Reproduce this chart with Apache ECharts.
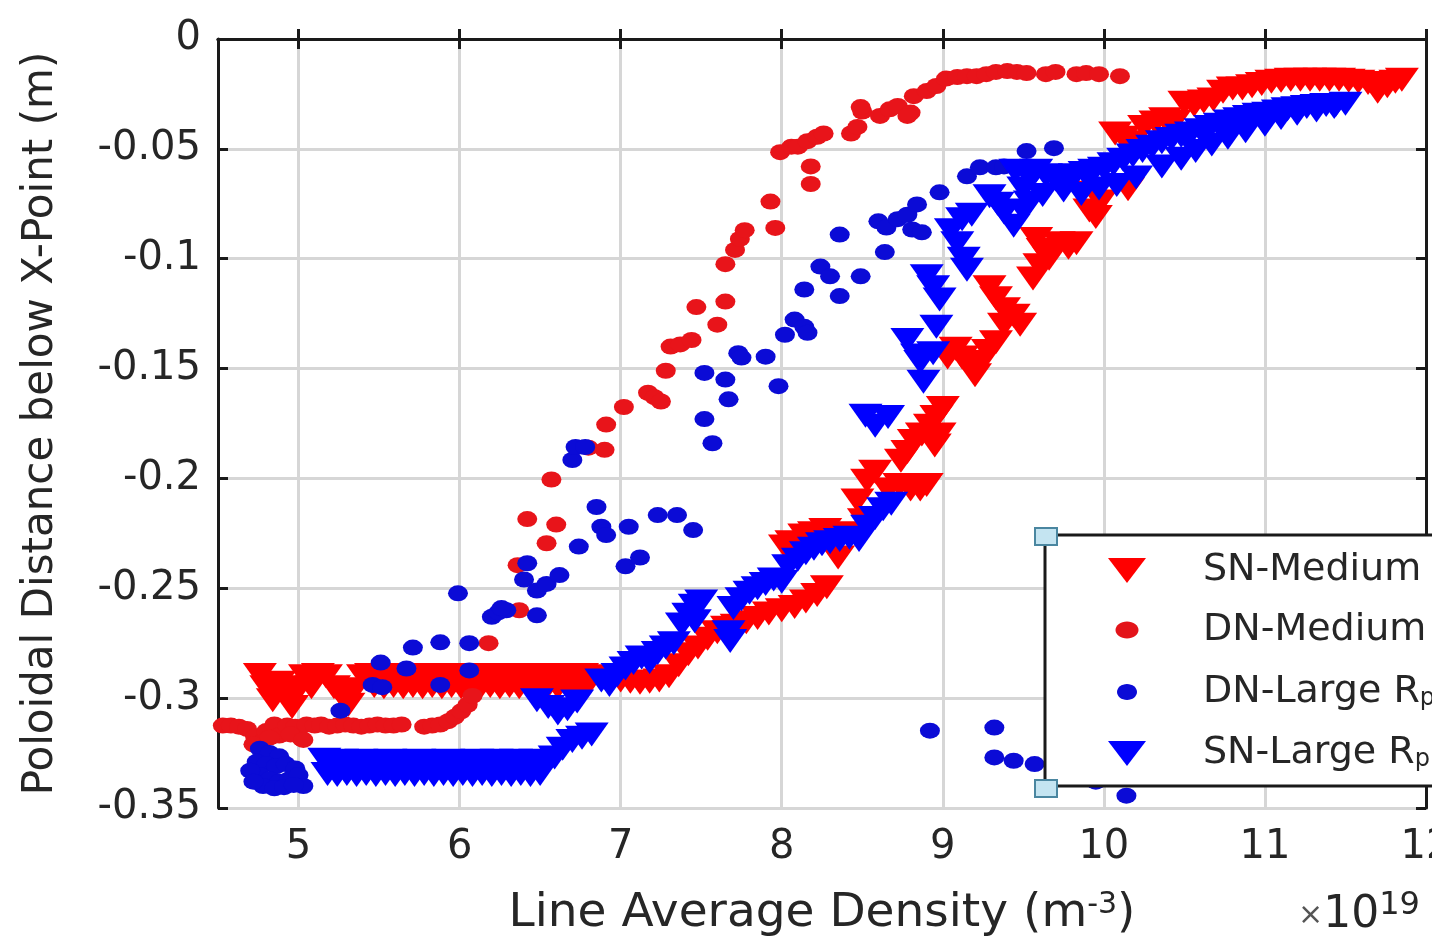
<!DOCTYPE html>
<html>
<head>
<meta charset="utf-8">
<script src="https://cdn.jsdelivr.net/npm/echarts@6/dist/echarts.min.js"></script>
<style>
  html, body { margin: 0; padding: 0; background: #fff; }
  #chart { width: 1432px; height: 937px; }
</style>
</head>
<body>
<div id="chart"></div>
<script>
// x: line average density (x1e19 m^-3), y: poloidal distance below X-point (m)
const snMedium = [
  [4.76,-0.2895],[4.80,-0.2950],[4.84,-0.3010],[4.88,-0.2930],[4.92,-0.2990],[4.96,-0.3040],[5.00,-0.2960],
  [5.04,-0.2900],[5.08,-0.2950],[5.12,-0.2895],[5.17,-0.2900],[5.22,-0.2950],[5.27,-0.2990],[5.31,-0.3030],
  [5.35,-0.2960],[5.40,-0.2900],[5.45,-0.2895],[5.50,-0.2900],[5.56,-0.2895],[5.62,-0.2900],[5.68,-0.2895],
  [5.74,-0.2900],[5.80,-0.2895],[5.86,-0.2900],[5.92,-0.2895],[5.98,-0.2900],[6.04,-0.2895],[6.10,-0.2900],
  [6.16,-0.2895],[6.22,-0.2900],[6.28,-0.2895],[6.34,-0.2900],[6.40,-0.2895],[6.46,-0.2900],[6.52,-0.2895],
  [6.58,-0.2900],[6.64,-0.2895],[6.70,-0.2900],[6.76,-0.2895],[6.82,-0.2900],
  [4.99,-0.2950],[5.47,-0.2945],[5.53,-0.2950],[5.59,-0.2945],[5.65,-0.2950],[5.71,-0.2945],[5.77,-0.2950],
  [5.83,-0.2945],[5.89,-0.2950],[5.95,-0.2945],[6.01,-0.2950],[6.07,-0.2945],[6.13,-0.2950],[6.19,-0.2945],
  [6.25,-0.2950],[6.31,-0.2945],[6.37,-0.2950],[6.43,-0.2945],[6.49,-0.2950],[6.55,-0.2945],[6.61,-0.2950],
  [6.67,-0.2945],[6.73,-0.2950],[6.79,-0.2945],
  [6.88,-0.2910],[6.94,-0.2920],[7.00,-0.2920],[7.06,-0.2925],[7.12,-0.2930],[7.18,-0.2925],[7.24,-0.2920],
  [7.30,-0.2900],[7.36,-0.2850],[7.42,-0.2800],[7.48,-0.2770],[7.54,-0.2730],[7.60,-0.2700],[7.66,-0.2680],
  [7.72,-0.2670],[7.78,-0.2655],[7.85,-0.2635],[7.92,-0.2615],[8.00,-0.2600],[8.08,-0.2585],[8.15,-0.2560],
  [8.22,-0.2530],[8.28,-0.2495],
  [8.02,-0.2310],[8.06,-0.2290],[8.14,-0.2260],[8.20,-0.2250],[8.27,-0.2235],[8.35,-0.2360],[8.42,-0.2250],
  [8.47,-0.2100],[8.51,-0.2190],[8.53,-0.2010],[8.58,-0.1970],[8.66,-0.2050],[8.73,-0.2030],[8.80,-0.2050],
  [8.86,-0.2050],[8.90,-0.2030],
  [8.74,-0.1920],[8.78,-0.1880],[8.82,-0.1830],[8.87,-0.1800],[8.92,-0.1760],[8.96,-0.1720],[9.00,-0.1680],
  [8.95,-0.1850],[8.98,-0.1800],
  [9.03,-0.1450],[9.08,-0.1410],[9.12,-0.1450],[9.16,-0.1480],[9.20,-0.1530],[9.24,-0.1470],[9.28,-0.1420],
  [9.33,-0.1380],[9.38,-0.1300],[9.29,-0.1130],[9.33,-0.1180],[9.38,-0.1230],[9.44,-0.1260],[9.48,-0.1300],
  [9.56,-0.1090],[9.60,-0.1030],[9.58,-0.0910],[9.62,-0.0960],[9.66,-0.1000],[9.72,-0.0930],[9.78,-0.0950],
  [9.83,-0.0930],[9.91,-0.0780],[9.95,-0.0810],[9.86,-0.0700],[9.98,-0.0740],[10.15,-0.0684],
  [10.07,-0.0430],[10.12,-0.0450],[10.18,-0.0470],[10.25,-0.0400],[10.32,-0.0380],[10.38,-0.0365],
  [10.44,-0.0375],[10.50,-0.0290],[10.56,-0.0300],[10.62,-0.0285],[10.68,-0.0275],[10.74,-0.0240],
  [10.80,-0.0225],[10.86,-0.0225],[10.92,-0.0215],[10.98,-0.0205],[11.04,-0.0195],[11.10,-0.0190],
  [11.16,-0.0185],[11.22,-0.0185],[11.28,-0.0185],[11.34,-0.0185],[11.40,-0.0185],[11.46,-0.0185],
  [11.52,-0.0190],[11.58,-0.0195],[11.64,-0.0200],[11.70,-0.0240],[11.76,-0.0215],[11.81,-0.0195],[11.85,-0.0185]
];

const dnMedium = [
  [4.53,-0.3125],[4.58,-0.3125],[4.63,-0.3130],[4.68,-0.3140],[4.73,-0.3175],[4.77,-0.3200],[4.80,-0.3150],
  [4.85,-0.3120],[4.88,-0.3170],[4.93,-0.3125],[4.98,-0.3130],[5.02,-0.3185],[5.05,-0.3120],[5.10,-0.3125],
  [5.14,-0.3120],[5.19,-0.3130],[5.24,-0.3125],[5.29,-0.3120],[5.34,-0.3125],[5.39,-0.3130],[5.44,-0.3125],
  [5.49,-0.3120],[5.54,-0.3125],[5.59,-0.3125],[5.64,-0.3120],
  [5.78,-0.3130],[5.83,-0.3125],[5.88,-0.3120],[5.93,-0.3105],[5.97,-0.3085],[6.01,-0.3060],[6.05,-0.3030],
  [6.08,-0.2990],[4.72,-0.3210],[4.82,-0.3180],[4.95,-0.3165],[5.03,-0.3190],
  [6.18,-0.2750],[6.37,-0.2600],[6.36,-0.2395],[6.42,-0.2185],[6.54,-0.2295],[6.60,-0.2210],[6.57,-0.2005],
  [6.80,-0.1860],[6.90,-0.1870],[6.91,-0.1755],[7.02,-0.1675],[7.17,-0.1610],[7.21,-0.1630],[7.25,-0.1650],
  [7.28,-0.1510],[7.31,-0.1400],[7.37,-0.1390],[7.44,-0.1370],[7.47,-0.1220],[7.60,-0.1300],[7.65,-0.1195],
  [7.65,-0.1025],[7.71,-0.0960],[7.74,-0.0910],[7.77,-0.0870],[7.93,-0.0740],[7.96,-0.0860],[7.99,-0.0515],
  [8.06,-0.0490],[8.10,-0.0490],[8.16,-0.0465],[8.22,-0.0445],[8.26,-0.0430],[8.18,-0.0580],[8.18,-0.0660],
  [8.43,-0.0430],[8.47,-0.0400],[8.50,-0.0330],[8.49,-0.0310],[8.61,-0.0350],[8.67,-0.0320],[8.72,-0.0305],
  [8.80,-0.0335],[8.78,-0.0350],[8.82,-0.0260],[8.90,-0.0237],[8.96,-0.0214],[9.02,-0.0180],[9.09,-0.0173],
  [9.15,-0.0169],[9.21,-0.0169],[9.27,-0.0160],[9.33,-0.0150],[9.40,-0.0146],[9.46,-0.0150],[9.52,-0.0155],
  [9.64,-0.0160],[9.70,-0.0150],[9.83,-0.0160],[9.89,-0.0155],[9.97,-0.0160],[10.10,-0.0169]
];

const dnLarge = [
  [4.76,-0.3230],[4.82,-0.3250],[4.88,-0.3265],[4.74,-0.3290],[4.80,-0.3300],[4.86,-0.3310],[4.92,-0.3300],
  [4.98,-0.3320],[4.76,-0.3350],[4.82,-0.3370],[4.88,-0.3380],[4.94,-0.3370],[5.00,-0.3350],[5.03,-0.3400],
  [4.78,-0.3400],[4.85,-0.3410],[4.91,-0.3405],[4.97,-0.3395],[4.70,-0.3330],[4.72,-0.3380],
  [5.26,-0.3057],[5.46,-0.2940],[5.51,-0.2838],[5.52,-0.2950],[5.67,-0.2865],[5.71,-0.2770],[5.88,-0.2746],
  [5.88,-0.2940],[5.99,-0.2523],[6.06,-0.2750],[6.06,-0.2874],[6.20,-0.2630],[6.24,-0.2610],[6.29,-0.2600],
  [6.26,-0.2590],[6.40,-0.2460],[6.42,-0.2386],[6.48,-0.2510],[6.48,-0.2623],[6.54,-0.2480],[6.62,-0.2440],
  [6.74,-0.2310],[6.70,-0.1916],[6.72,-0.1857],[6.78,-0.1857],[6.85,-0.2130],[6.88,-0.2220],[6.91,-0.2258],
  [7.03,-0.2400],[7.05,-0.2220],[7.12,-0.2360],[7.23,-0.2167],[7.35,-0.2167],[7.45,-0.2235],[7.52,-0.1520],
  [7.52,-0.1730],[7.57,-0.1840],[7.65,-0.1550],[7.67,-0.1640],[7.73,-0.1430],[7.75,-0.1450],[7.90,-0.1446],
  [7.98,-0.1580],[8.02,-0.1346],[8.08,-0.1277],[8.14,-0.1310],[8.16,-0.1337],[8.14,-0.1140],[8.24,-0.1036],
  [8.30,-0.1080],[8.36,-0.1170],[8.36,-0.0890],[8.49,-0.1080],[8.60,-0.0830],[8.64,-0.0970],[8.65,-0.0858],
  [8.72,-0.0820],[8.78,-0.0800],[8.81,-0.0867],[8.84,-0.0753],[8.87,-0.0880],[8.98,-0.0698],[9.15,-0.0625],
  [9.23,-0.0584],[9.33,-0.0584],[9.38,-0.0580],[9.52,-0.0510],[9.69,-0.0497],
  [8.92,-0.3148],[9.32,-0.3134],[9.32,-0.3270],[9.44,-0.3285],[9.57,-0.3300],[9.75,-0.3340],[9.95,-0.3380],
  [10.14,-0.3444]
];

const snLarge = [
  [5.16,-0.3280],[5.21,-0.3290],[5.27,-0.3285],[5.33,-0.3290],[5.39,-0.3285],[5.45,-0.3290],[5.51,-0.3290],
  [5.57,-0.3285],[5.63,-0.3290],[5.69,-0.3290],[5.75,-0.3285],[5.81,-0.3290],[5.87,-0.3290],[5.93,-0.3285],
  [5.99,-0.3290],[6.05,-0.3290],[6.11,-0.3285],[6.17,-0.3290],[6.23,-0.3285],[6.29,-0.3290],[6.35,-0.3285],
  [6.41,-0.3290],[6.47,-0.3285],[6.53,-0.3290],[6.59,-0.3270],[6.64,-0.3230],[6.70,-0.3195],[6.76,-0.3180],
  [6.82,-0.3165],
  [5.18,-0.3345],[5.24,-0.3350],[5.30,-0.3345],[5.36,-0.3350],[5.42,-0.3345],[5.48,-0.3350],[5.54,-0.3345],
  [5.60,-0.3350],[5.66,-0.3345],[5.72,-0.3350],[5.78,-0.3345],[5.84,-0.3350],[5.90,-0.3345],[5.96,-0.3350],
  [6.02,-0.3345],[6.08,-0.3350],[6.14,-0.3345],[6.20,-0.3350],[6.26,-0.3345],[6.32,-0.3350],[6.38,-0.3345],
  [6.44,-0.3350],[6.50,-0.3345],
  [6.48,-0.3010],[6.55,-0.3040],[6.61,-0.3070],[6.67,-0.3050],[6.73,-0.3015],
  [6.88,-0.2920],[6.93,-0.2940],[6.98,-0.2895],[7.03,-0.2865],[7.08,-0.2840],[7.13,-0.2815],[7.18,-0.2835],
  [7.23,-0.2795],[7.28,-0.2770],[7.33,-0.2750],[7.38,-0.2665],[7.42,-0.2620],[7.46,-0.2580],[7.50,-0.2560],
  [7.46,-0.2650],[7.68,-0.2740],[7.67,-0.2700],[7.70,-0.2590],[7.75,-0.2550],[7.80,-0.2520],[7.85,-0.2500],
  [7.90,-0.2480],[7.95,-0.2460],[8.00,-0.2470],[8.04,-0.2400],[8.10,-0.2370],[8.15,-0.2340],[8.20,-0.2320],
  [8.25,-0.2300],[8.30,-0.2290],[8.36,-0.2280],[8.42,-0.2270],[8.48,-0.2280],[8.53,-0.2220],[8.58,-0.2180],
  [8.63,-0.2140],[8.68,-0.2115],
  [8.52,-0.1715],[8.58,-0.1760],[8.66,-0.1720],[8.78,-0.1370],[8.84,-0.1440],[8.86,-0.1470],[8.88,-0.1560],
  [8.94,-0.1430],[8.96,-0.1310],[8.90,-0.1080],[8.94,-0.1130],[8.98,-0.1186],[9.09,-0.0930],[9.13,-0.1000],
  [9.15,-0.1050],[9.05,-0.0870],[9.12,-0.0820],[9.18,-0.0800],[9.29,-0.0716],[9.34,-0.0750],[9.38,-0.0790],
  [9.44,-0.0850],[9.50,-0.0780],[9.54,-0.0744],
  [9.45,-0.0600],[9.52,-0.0610],[9.58,-0.0600],[9.64,-0.0620],[9.70,-0.0640],[9.76,-0.0630],[9.82,-0.0620],
  [9.88,-0.0610],[9.94,-0.0600],[10.00,-0.0590],[10.06,-0.0570],[10.12,-0.0550],[10.18,-0.0530],[10.24,-0.0510],
  [10.30,-0.0490],[10.36,-0.0470],[10.42,-0.0455],[10.48,-0.0440],[10.54,-0.0430],[10.60,-0.0415],[10.66,-0.0400],
  [10.72,-0.0390],[10.78,-0.0375],[10.84,-0.0365],[10.90,-0.0355],[10.96,-0.0345],[11.02,-0.0340],[11.08,-0.0330],
  [11.14,-0.0320],[11.20,-0.0315],[11.26,-0.0310],[11.32,-0.0305],[11.38,-0.0300],[11.44,-0.0300],[11.50,-0.0295],
  [9.50,-0.0680],[9.62,-0.0710],[9.75,-0.0690],[9.86,-0.0705],[9.97,-0.0680],[10.08,-0.0665],[10.20,-0.0630],
  [10.36,-0.0580],[10.48,-0.0545],[10.57,-0.0510],[10.67,-0.0480],[10.77,-0.0450],[10.88,-0.0420],[11.00,-0.0390],
  [11.10,-0.0360],[11.20,-0.0340],[11.32,-0.0325],[11.43,-0.0310]
];

const seriesNames = ['SN-Medium', 'DN-Medium', 'DN-Large R', 'SN-Large R'];
const xRange = [4.5, 12];
const yRange = [-0.35, 0];
const yStep = 0.05;

const FONT = 'DejaVu Sans';
const TXT = '#262626';
const FRAME = '#1a1a1a';
const TRI = 'path://M0,0L10,0L5,7Z'; // downward triangle

const chart = echarts.init(document.getElementById('chart'));

const frameAxis = {
  axisLine: { show: true, lineStyle: { color: FRAME, width: 3 } },
  axisTick: { show: true, inside: true, length: 10, lineStyle: { color: FRAME, width: 3 } }
};

const legendItems = [
  { y: 570, shape: 'tri', color: '#ff0000' },
  { y: 630, shape: 'dot', color: '#e3141a', rx: 11.5, ry: 8.5 },
  { y: 692, shape: 'dot', color: '#0b0bd6', rx: 10, ry: 8 },
  { y: 753, shape: 'tri', color: '#0000ff' }
];

const legendGraphics = [
  { type: 'rect', z: 100, shape: { x: 1045, y: 535, width: 420, height: 251 },
    style: { fill: '#fff', stroke: FRAME, lineWidth: 3 } }
];
legendItems.forEach((it, i) => {
  if (it.shape === 'tri') {
    legendGraphics.push({ type: 'polygon', z: 101,
      shape: { points: [[1108, it.y - 12], [1146, it.y - 12], [1127, it.y + 13]] },
      style: { fill: it.color } });
  } else {
    legendGraphics.push({ type: 'ellipse', z: 101,
      shape: { cx: 1127, cy: it.y, rx: it.rx, ry: it.ry },
      style: { fill: it.color } });
  }
  const sub = i >= 2;
  legendGraphics.push({ type: 'text', z: 101,
    style: {
      text: sub ? seriesNames[i] + '{sub|p}' : seriesNames[i],
      x: 1203, y: it.y, verticalAlign: 'middle',
      font: '38px "' + FONT + '"', fill: TXT,
      rich: { sub: { fontSize: 24, fontFamily: FONT, fill: TXT, verticalAlign: 'bottom', padding: [14, 0, 0, 0] } }
    } });
});
// selection handles on the legend corners
[536, 788].forEach(cy => {
  legendGraphics.push({ type: 'rect', z: 102,
    shape: { x: 1035, y: cy - 8, width: 22, height: 17 },
    style: { fill: '#c4e4f1', stroke: '#4a86a0', lineWidth: 2 } });
});
// exponent note
legendGraphics.push({ type: 'text', z: 101,
  style: {
    text: '{x|\u00d7}{n|10}{s|19}', x: 1298, y: 916, verticalAlign: 'middle',
    rich: {
      x: { fontSize: 30, fontFamily: FONT, fill: '#555' },
      n: { fontSize: 44, fontFamily: FONT, fill: TXT },
      s: { fontSize: 32, fontFamily: FONT, fill: TXT, verticalAlign: 'top', padding: [0, 0, 20, 0] }
    }
  } });

const option = {
  animation: false,
  backgroundColor: '#fff',
  grid: { left: 218, right: 6, top: 39, bottom: 129, outerBoundsMode: 'none' },
  xAxis: [
    Object.assign({
      type: 'value', position: 'bottom', min: xRange[0], max: xRange[1],
      minInterval: 1, maxInterval: 1,
      splitLine: { show: true, lineStyle: { color: '#d6d6d6', width: 3 } },
      axisLabel: {
        interval: 0, showMinLabel: false, showMaxLabel: true, margin: 20,
        color: TXT, fontSize: 40, fontFamily: FONT,
        formatter: v => Math.abs(v - Math.round(v)) < 1e-9 ? String(Math.round(v)) : ''
      },
      name: 'Line Average Density (m{sup|-3})',
      nameLocation: 'middle', nameGap: 82,
      nameTextStyle: {
        color: TXT, fontSize: 47, fontFamily: FONT,
        rich: { sup: { color: TXT, fontSize: 30, fontFamily: FONT, verticalAlign: 'top', padding: [0, 0, 12, 0] } }
      }
    }, frameAxis),
    Object.assign({
      type: 'value', position: 'top', min: xRange[0], max: xRange[1],
      minInterval: 1, maxInterval: 1,
      splitLine: { show: false }, axisLabel: { show: false }
    }, frameAxis)
  ],
  yAxis: [
    Object.assign({
      type: 'value', position: 'left', min: yRange[0], max: yRange[1], interval: yStep,
      splitLine: { show: true, lineStyle: { color: '#d6d6d6', width: 3 } },
      axisLabel: { margin: 17, color: TXT, fontSize: 40, fontFamily: FONT },
      name: 'Poloidal Distance below X-Point (m)',
      nameLocation: 'middle', nameRotate: 90, nameGap: 156,
      nameTextStyle: { color: TXT, fontSize: 42, fontFamily: FONT }
    }, frameAxis),
    Object.assign({
      type: 'value', position: 'right', min: yRange[0], max: yRange[1], interval: yStep,
      splitLine: { show: false }, axisLabel: { show: false }
    }, frameAxis)
  ],
  series: [
    { name: seriesNames[0], type: 'scatter', data: snMedium, symbol: TRI, symbolKeepAspect: false,
      symbolSize: [34, 24], itemStyle: { color: '#ff0000', opacity: 1 } },
    { name: seriesNames[1], type: 'scatter', data: dnMedium, symbol: 'circle',
      symbolSize: [20, 16], itemStyle: { color: '#e8141a', opacity: 1 } },
    { name: seriesNames[2], type: 'scatter', data: dnLarge, symbol: 'circle',
      symbolSize: [20, 16], itemStyle: { color: '#0b0bd6', opacity: 1 } },
    { name: seriesNames[3], type: 'scatter', data: snLarge, symbol: TRI, symbolKeepAspect: false,
      symbolSize: [34, 24], itemStyle: { color: '#0000ff', opacity: 1 } }
  ],
  graphic: { elements: legendGraphics }
};

chart.setOption(option);
</script>
</body>
</html>
